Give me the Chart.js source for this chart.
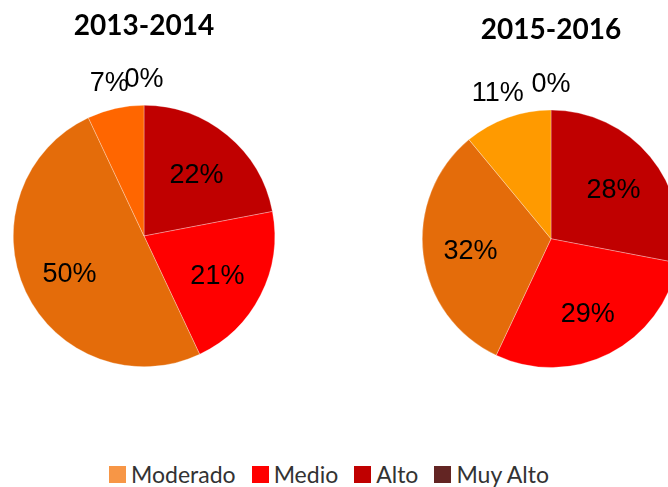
<!DOCTYPE html>
<html>
<head>
<meta charset="utf-8">
<script src="https://cdn.jsdelivr.net/npm/chart.js@4"></script>
<style>
  html, body { margin: 0; padding: 0; overflow: hidden; background: #fff; width: 668px; height: 487px; }
  #left { position: absolute; left: 0; top: 0; }
  #right { position: absolute; left: 410px; top: 0; }
  #legend { position: absolute; left: 0; top: 460px; width: 658px; display: flex; justify-content: center;
            font-family: Lato, 'Open Sans', sans-serif; font-size: 23px; color: #333; }
  #legend span.item { display: flex; align-items: center; margin: 0 8px; }
  #legend span.box { display: inline-block; width: 17px; height: 17px; margin-right: 5px; }
</style>
</head>
<body>
<canvas id="left" width="290" height="400"></canvas>
<canvas id="right" width="290" height="400"></canvas>
<div id="legend"></div>
<script>
// slices go clockwise from 12 o'clock
const categories = ['Alto', 'Medio', 'Moderado', 'Bajo', 'Muy Alto'];
const values2013 = [22, 21, 50, 7, 0];
const values2015 = [28, 29, 32, 11, 0];
const colors2013 = ['#C00000', '#FF0000', '#E46C0A', '#FF6600', '#632523'];
const colors2015 = ['#C00000', '#FF0000', '#E46C0A', '#FF9A00', '#632523'];

const legendLabels = ['Moderado', 'Medio', 'Alto', 'Muy Alto'];
const legendColors = ['#F79646', '#FF0000', '#C00000', '#632523'];

// percentage labels: big slices inside, small ones outside the pie
const pctLabels = {
    id: 'pctLabels',
    afterDatasetsDraw(chart) {
        const ctx = chart.ctx;
        const data = chart.data.datasets[0].data;
        ctx.save();
        ctx.font = '27px "Liberation Sans", Arial, sans-serif';
        ctx.fillStyle = '#000';
        ctx.textAlign = 'center';
        ctx.textBaseline = 'middle';
        chart.getDatasetMeta(0).data.forEach((arc, i) => {
            const p = arc.getProps(['x', 'y', 'startAngle', 'endAngle', 'outerRadius'], true);
            const mid = (p.startAngle + p.endAngle) / 2;
            const d = data[i] < 12 ? p.outerRadius * 1.22 : p.outerRadius * 0.63;
            ctx.fillText(data[i] + '%', p.x + Math.cos(mid) * d, p.y + Math.sin(mid) * d + 3);
        });
        ctx.restore();
    }
};

function makePie(id, title, values, colors, titlePad, layoutPad) {
    new Chart(document.getElementById(id), {
        type: 'pie',
        data: {
            labels: categories,
            datasets: [{
                data: values,
                backgroundColor: colors,
                borderColor: 'rgba(255,255,255,0.6)',
                borderWidth: 0.5
            }]
        },
        options: {
            responsive: false,
            animation: false,
            layout: { padding: layoutPad },
            plugins: {
                legend: { display: false },
                tooltip: { enabled: false },
                title: {
                    display: true,
                    text: title,
                    color: '#000',
                    font: { family: 'Lato', weight: 'bold', size: 28, lineHeight: 1.2 },
                    padding: titlePad
                }
            }
        },
        plugins: [pctLabels]
    });
}

makePie('left', '2013-2014', values2013, colors2013,
    { top: 9, bottom: 62.4 }, { left: 13, right: 15, top: 0, bottom: 33 });
makePie('right', '2015-2016', values2015, colors2015,
    { top: 13, bottom: 63 }, { left: 12, right: 20, top: 0, bottom: 32 });

const legend = document.getElementById('legend');
legendLabels.forEach((lab, i) => {
    const item = document.createElement('span');
    item.className = 'item';
    item.innerHTML = '<span class="box" style="background:' + legendColors[i] + '"></span>' + lab;
    legend.appendChild(item);
});
</script>
</body>
</html>
